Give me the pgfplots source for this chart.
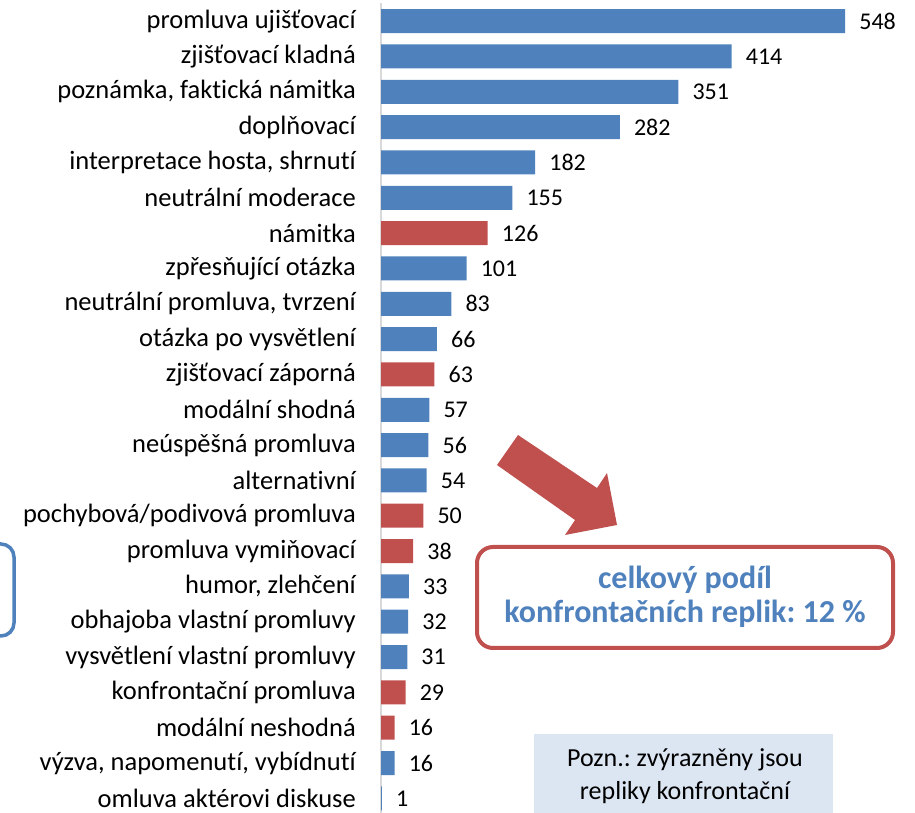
\documentclass[border=0pt]{standalone}
\usepackage{fontspec}
\setmainfont{Carlito}[Ligatures=NoCommon]
\usepackage{pgfplots}
\pgfplotsset{compat=1.18}
\definecolor{cblue}{HTML}{4F81BD}
\definecolor{cred}{HTML}{C0504D}
\definecolor{cnote}{HTML}{DCE6F2}
\frenchspacing
\begin{document}
\begin{tikzpicture}[x=1pt,y=1pt]
\useasboundingbox (0,0) rectangle (915,813);
\begin{axis}[
  at={(381pt,809.5pt)}, anchor=north west,
  scale only axis, width=524pt, height=812.5pt,
  xmin=0, xmax=618.7, ymin=-0.5, ymax=22.5, y dir=reverse,
  xbar, bar width=24pt, bar shift=0pt,
  axis x line=none, axis y line*=left,
  y axis line style={draw=black!15, line width=1.5pt, -},
  ytick={0,...,22},
  yticklabels={promluva ujišťovací, zjišťovací kladná, {poznámka, faktická námitka}, doplňovací, {interpretace hosta, shrnutí}, neutrální moderace, námitka, zpřesňující otázka, {neutrální promluva, tvrzení}, otázka po vysvětlení, zjišťovací záporná, modální shodná, neúspěšná promluva, alternativní, pochybová/podivová promluva, promluva vymiňovací, {humor, zlehčení}, obhajoba vlastní promluvy, vysvětlení vlastní promluvy, konfrontační promluva, modální neshodná, {výzva, napomenutí, vybídnutí}, omluva aktérovi diskuse},
  major tick length=0pt,
  yticklabel style={font=\fontsize{26.5}{30}\selectfont, inner sep=0pt, xshift=-25pt, text=black},
  /pgf/number format/assume math mode=true,
  nodes near coords,
  nodes near coords style={font=\fontsize{24}{28}\selectfont, anchor=west, xshift=10.7pt, text=black},
  clip=false,
]
\addplot[fill=cblue, draw=none] coordinates {
(548,0) (414,1) (351,2) (282,3) (182,4) (155,5) (101,7) (83,8) (66,9) (57,11) (56,12) (54,13) (33,16) (32,17) (31,18) (16,21) (1,22)};
\addplot[fill=cred, draw=none] coordinates {
(126,6) (63,10) (50,14) (38,15) (29,19) (16,20)};
\end{axis}
% arrow
\fill[cred] (497,348) -- (518,378) -- (597,325) -- (607,340) -- (617,288) -- (565,278) -- (575,293) -- cycle;
% red box
\draw[cred, line width=4pt, rounded corners=16pt, fill=white] (477,266) rectangle (893,165);
\node[text=cblue, font=\fontsize{32}{36}\selectfont\bfseries] at (685,233) {celkový podíl};
\node[text=cblue, font=\fontsize{32}{36}\selectfont\bfseries] at (685,199) {konfrontačních replik: 12 \%};
% note box
\fill[cnote] (534,79) rectangle (833,-5);
\node[font=\fontsize{26}{30}\selectfont] at (685,53) {Pozn.: zvýrazněny jsou};
\node[font=\fontsize{26}{30}\selectfont] at (685,20) {repliky konfrontační};
% left box
\draw[cblue, line width=3.5pt, rounded corners=13pt] (-40,269) rectangle (14,177);
\end{tikzpicture}
\end{document}
